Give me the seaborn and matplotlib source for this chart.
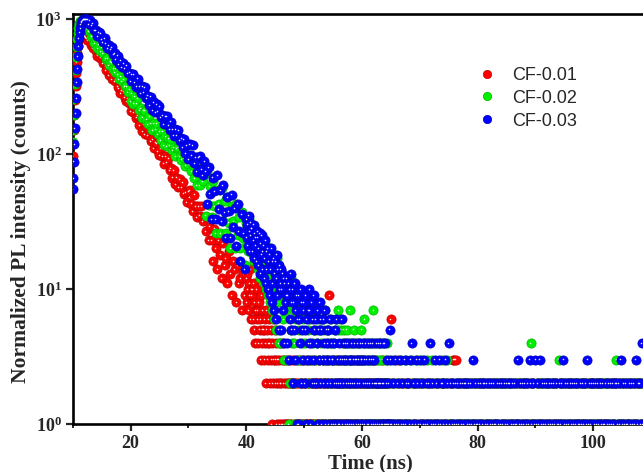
import numpy as np
import pandas as pd
import matplotlib
matplotlib.use('Agg')
import matplotlib.pyplot as plt
from matplotlib.lines import Line2D
from matplotlib.ticker import LogLocator, MultipleLocator, NullLocator
import seaborn as sns

labels = ['CF-0.01', 'CF-0.02', 'CF-0.03']
colors = ['#ff0000', '#00f000', '#0000ff']
edges = ['#c00000', '#00b400', '#0000b8']

# rising edge, 0.1 ns channels from 10 ns
rise_start, rise_step = 10.0, 0.1
red_rise = [96, 118, 150, 195, 250, 320, 400, 480, 560, 630, 685, 725, 752, 770, 782,
            790, 792, 788, 780, 770, 760, 750, 740, 730, 720]
green_rise = [122, 150, 195, 255, 330, 420, 520, 620, 710, 790, 860, 915, 950, 970, 975,
              968, 955, 940, 925, 910, 897, 885, 874, 864, 856]
blue_rise = [55, 66, 88, 118, 155, 200, 260, 340, 430, 530, 630, 720, 800, 860, 910,
             945, 970, 988, 996, 1000, 998, 997, 995, 994, 993]

# decay, 0.25 ns channels from 12.5 ns
decay_start, decay_step = 12.5, 0.25
red_decay = [696, 733, 718, 646, 607, 643, 585, 537, 560, 519,
             532, 469, 470, 421, 446, 383, 405, 360, 382, 347,
             361, 316, 309, 283, 297, 292, 262, 246, 261, 239,
             209, 234, 205, 225, 186, 193, 163, 187, 147, 167,
             140, 160, 138, 152, 124, 129, 110, 123, 121, 105,
             98, 110, 97, 85, 96, 87, 93, 76, 79, 67,
             76, 60, 67, 57, 65, 57, 62, 51, 52, 44,
             53, 54, 43, 38, 50, 41, 34, 41, 35, 41,
             32, 34, 27, 34, 23, 29, 23, 16, 28, 20,
             14, 23, 18, 12, 22, 15, 17, 11, 19, 13,
             9, 16, 14, 8, 15, 11, 12, 7, 13, 9]
green_decay = [881, 814, 841, 741, 744, 668, 711, 611, 647, 577,
               614, 559, 581, 509, 512, 458, 485, 477, 429, 404,
               430, 392, 359, 377, 349, 359, 317, 318, 286, 304,
               247, 281, 236, 270, 237, 259, 212, 220, 186, 212,
               210, 180, 167, 191, 168, 150, 170, 154, 168, 141,
               147, 127, 147, 117, 135, 115, 132, 117, 130, 107,
               112, 96, 111, 112, 96, 91, 104, 93, 82, 93,
               84, 99, 75, 83, 66, 85, 59, 76, 59, 76,
               63, 77, 35, 73, 42, 58, 34, 63, 41, 26,
               54, 43, 26, 56, 32, 45, 26, 48, 31, 20,
               41, 32, 20, 43, 25, 34, 20, 37, 24, 15]
blue_decay = [992, 915, 978, 897, 936, 824, 833, 751, 798, 789,
              714, 676, 722, 663, 611, 644, 599, 621, 550, 556,
              501, 536, 463, 493, 442, 472, 433, 452, 398, 402,
              345, 393, 393, 339, 316, 362, 320, 284, 318, 288,
              312, 260, 271, 231, 266, 212, 241, 204, 235, 207,
              227, 187, 195, 167, 190, 190, 164, 152, 174, 154,
              137, 154, 138, 151, 126, 131, 112, 129, 102, 116,
              92, 119, 98, 117, 86, 95, 74, 94, 97, 77,
              70, 89, 75, 43, 80, 51, 33, 67, 53, 33,
              70, 39, 54, 32, 59, 37, 24, 48, 38, 24,
              50, 29, 40, 21, 43, 27, 16, 36, 26, 14]

# low-count region, 0.1 ns channels from 40 ns, one base-36 digit per channel
mid_start, mid_step = 40.0, 0.1
red_mid = ("c8da7b9e6a" "9a6b5847a6" "7485639475" "5364275346" "4253142635"
           "3241323142" "2131423121" "3121213212" "2312121321" "1213212131"
           "2121312121" "1312121213" "2121213121" "1213121212" "2131912121"
           "1213121312" "2121312121" "1312121213" "2121213121" "1213121212"
           "2121312121" "1212121312" "2131212121" "1212131212" "2121212121")
green_mid = ("vmtjxqkuor" "riotgpknfq" "nelpckhodi" "kbgmaidj9f" "h8dj7fag6c"
             "f5bh8d4e9a" "d49c6b3a78" "b38a1925c4" "92741a6813" "8153927416"
             "7249135826" "6138247153" "5247136251" "4136251734" "3251426143"
             "2145316257" "3126541325" "2413521347" "3142315241" "2413142315"
             "1324613241" "3142314213" "7241312431" "1324213142" "2131421312")
blue_mid = ("xoulzrjvps" "sjnuhqlogr" "ofkqdmipej" "lchnbjekag" "i9ek8gbh7d"
            "g6ci9e5fab" "e5ad7c4b89" "c49b3a6d58" "a285b37916" "9164a28537"
            "825916374a" "7148263952" "6247153826" "5136247135" "4251362413"
            "3142516231" "2413261324" "3142314213" "2314231423" "1324132413"
            "3142314231" "2413241324" "1321242124" "2142121421" "4121312151")

# background tail, 0.2 ns channels from 65 ns
tail_start, tail_step = 65.0, 0.2
red_tail = ("612121312121212"
            "1212121212" "2121212121" "1212121212" "2121212123" "3312121212"
            "1212121212" "2121212121" "1212121212" "2121212121" "1212121212"
            "2121212121" "1212121212" "2121212121" "1212121212" "2121212121"
            "1212121212" "2121212121" "1212121212" "2121212121" "1212121212"
            "1212")
green_tail = ("121312121312131"
              "1213212132" "2131213212" "1312121213" "2121312121" "1212121212"
              "1212121212" "2121212121" "1212121212" "2121212121" "1212121212"
              "2121214121" "1212121212" "2121212121" "3212121212" "1212121212"
              "2121212121" "1212121212" "2121212121" "3121212121" "1212121212"
              "2121")
blue_tail = ("312131213121312"
             "2134121321" "3121312124" "1213121312" "2131241212" "1212121212"
             "2121213121" "1212122121" "2121211212" "1212121221" "2121131212"
             "1212132121" "3121312121" "2121212121" "1212312121" "2121212112"
             "1212131212" "2121212121" "1212121212" "2121312121" "1212121312"
             "2141")


def series_frame(label, rise, decay, mid, tail):
    counts = (list(rise) + list(decay) + [int(c, 36) for c in mid]
              + [int(c, 36) for c in tail])
    t = np.concatenate([rise_start + rise_step * np.arange(len(rise)),
                        decay_start + decay_step * np.arange(len(decay)),
                        mid_start + mid_step * np.arange(len(mid)),
                        tail_start + tail_step * np.arange(len(tail))])
    return pd.DataFrame({'time': t, 'counts': counts, 'sample': label})


df = pd.concat([series_frame(labels[0], red_rise, red_decay, red_mid, red_tail),
                series_frame(labels[1], green_rise, green_decay, green_mid, green_tail),
                series_frame(labels[2], blue_rise, blue_decay, blue_mid, blue_tail)],
               ignore_index=True)

sns.set_style('ticks')
plt.rcParams['font.family'] = ['Liberation Serif', 'DejaVu Serif']
plt.rcParams['font.weight'] = 'bold'
plt.rcParams['axes.labelweight'] = 'bold'

fig = plt.figure(figsize=(6.43, 4.72), dpi=100)
ax = fig.add_axes([72.7 / 643, 1 - 424 / 472, (669 - 72.7) / 643, (424 - 13.5) / 472])

# one sample at a time so each ball keeps its own highlight
for lab, c, e in zip(labels, colors, edges):
    sub = df[df['sample'] == lab]
    sns.scatterplot(data=sub, x='time', y='counts', color=c, edgecolor=e,
                    linewidth=0.5, s=44, ax=ax, legend=False, zorder=3)
    ax.scatter(sub['time'] - 0.1, sub['counts'] * 1.004, s=1.3, color='white',
               alpha=0.9, linewidths=0, zorder=3)

ax.set_yscale('log')
ax.set_xlim(10, 113.1)
ax.set_ylim(1, 1100)
ax.xaxis.set_major_locator(MultipleLocator(20))
ax.xaxis.set_minor_locator(MultipleLocator(10))
ax.yaxis.set_major_locator(LogLocator(base=10, numticks=10))
ax.yaxis.set_minor_locator(NullLocator())

for side in ['left', 'bottom', 'top', 'right']:
    ax.spines[side].set_linewidth(1.9)
    ax.spines[side].set_color('black')
ax.tick_params(which='major', direction='out', length=5, width=1.6,
               labelsize=13, pad=3, top=False, right=False)
ax.tick_params(which='minor', direction='out', length=3, width=1.4,
               top=False, right=False)

ax.set_xlabel('Time (ns)', fontsize=15, fontweight='bold', labelpad=1)
ax.set_ylabel('Normalized PL intensity (counts)', fontsize=15.5, fontweight='bold')
ax.yaxis.set_label_coords((31 - 72.7) / 596.3, (424 - 232) / 410.5)

handles = [Line2D([], [], ls='', marker='o', markersize=6, markerfacecolor=c,
                  markeredgecolor=e, markeredgewidth=0.5) for c, e in zip(colors, edges)]
ax.legend(handles, labels, loc='upper left', bbox_to_anchor=(469 / 643, 1 - 58 / 472),
          bbox_transform=fig.transFigure, frameon=False, handlelength=1.0,
          handletextpad=0.9, labelspacing=0.32, borderpad=0,
          prop={'family': 'Liberation Sans', 'size': 13, 'weight': 'normal'})

fig.savefig('out.png', dpi=100)
